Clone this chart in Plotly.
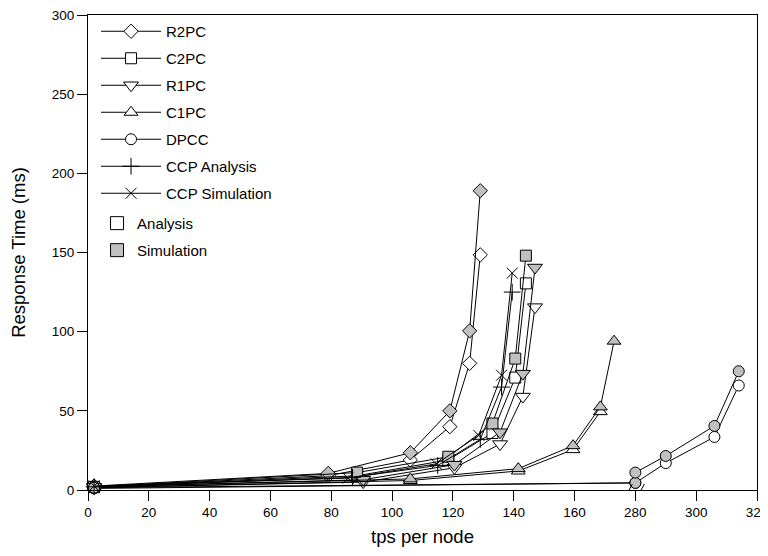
import plotly.graph_objects as go

# ---------------- data (tps per node, response time in ms) ----------------
r2pc_x = [2, 79, 106, 119, 125.5, 129]
r2pc_ana = [2, 9, 19, 40, 80, 148.5]
r2pc_sim = [2.5, 10.5, 23.5, 50, 100.5, 189]

c2pc_x = [2, 88.5, 118.5, 133, 140.5, 144]
c2pc_ana = [1.8, 9, 19, 36, 71, 130.5]
c2pc_sim = [2, 11, 21, 42, 83, 148]

r1pc_x = [2, 90.5, 120.5, 135.5, 143, 147]
r1pc_ana = [1.5, 5, 14, 29, 59, 115.5]
r1pc_sim = [2, 6.5, 16, 36.5, 73.5, 140.5]

c1pc_x_ana = [2, 106, 141.5, 159.5, 168.5]
c1pc_ana = [1.5, 6, 12, 25.5, 49.5]
c1pc_x_sim = [2, 106, 141.5, 159.5, 168.5, 173]
c1pc_sim = [2, 7, 13.5, 28, 52.5, 94]

dpcc_x_ana = [2, 280, 290, 306, 314]
dpcc_ana = [1, 4.5, 17, 33.5, 66]
dpcc_x_sim = [2, 280, 280, 290, 306, 314]
dpcc_sim = [1.5, 4.5, 11, 21.5, 40.5, 75]

ccp_x_ana = [2, 87, 115, 129, 136, 139.5]
ccp_ana = [2, 8, 15.5, 32, 65, 125]
ccp_x_sim = [2, 85.5, 114.5, 128.5, 136, 139.5]
ccp_sim = [2.5, 7.5, 16.5, 34.5, 72.5, 137]

tick_labels = [0, 20, 40, 60, 80, 100, 120, 140, 160, 280, 300, 320]
y_ticks = [0, 50, 100, 150, 200, 250, 300]

# axis break: 180..280 removed
BREAK_LO, BREAK_HI = 180, 280


def brk(v):
    return v if v <= BREAK_LO else v - (BREAK_HI - BREAK_LO)


def bx(xs):
    return [brk(v) for v in xs]


GREY = "#c0c0c0"
FONT = "Liberation Sans, Arial, sans-serif"

fig = go.Figure()


def add(name, xs, ys, symbol, fill, size, show, rank, legend="legend"):
    open_sym = symbol in ("cross-thin", "x-thin")
    fig.add_trace(go.Scatter(
        x=bx(xs), y=ys, mode="lines+markers", name=name,
        showlegend=show, legendgroup=name, legendrank=rank, legend=legend,
        line=dict(color="black", width=1),
        marker=dict(symbol=symbol, size=size,
                    color="black" if open_sym else fill,
                    line=dict(color="black", width=1)),
        cliponaxis=False,
    ))


add("R2PC", r2pc_x, r2pc_ana, "diamond", "white", 11, True, 1)
add("R2PC sim", r2pc_x, r2pc_sim, "diamond", GREY, 11, False, 100)
add("C2PC", c2pc_x, c2pc_ana, "square", "white", 11, True, 2)
add("C2PC sim", c2pc_x, c2pc_sim, "square", GREY, 11, False, 100)
add("R1PC", r1pc_x, r1pc_ana, "triangle-down", "white", 13, True, 3)
add("R1PC sim", r1pc_x, r1pc_sim, "triangle-down", GREY, 13, False, 100)
add("C1PC", c1pc_x_ana, c1pc_ana, "triangle-up", "white", 12, True, 4)
add("C1PC sim", c1pc_x_sim, c1pc_sim, "triangle-up", GREY, 12, False, 100)
add("DPCC", dpcc_x_ana, dpcc_ana, "circle", "white", 11, True, 5)
add("DPCC sim", dpcc_x_sim, dpcc_sim, "circle", GREY, 11, False, 100)
add("CCP Analysis", ccp_x_ana, ccp_ana, "cross-thin", "black", 12, True, 6)
add("CCP Simulation", ccp_x_sim, ccp_sim, "x-thin", "black", 11, True, 7)

# marker-only key for analysis / simulation
for nm, fill, rk in (("Analysis", "white", 1), ("Simulation", GREY, 2)):
    fig.add_trace(go.Scatter(
        x=[None], y=[None], mode="markers", name=nm, legend="legend2",
        legendgroup=nm, legendrank=rk,
        marker=dict(symbol="square", size=13, color=fill,
                    line=dict(color="black", width=1)),
    ))

# axis-break marks on the x axis
for dx in (-10, 2):
    fig.add_shape(type="line", xref="x", yref="y",
                  xsizemode="pixel", ysizemode="pixel",
                  xanchor=BREAK_LO, yanchor=0,
                  x0=dx, x1=dx + 7, y0=-7, y1=6,
                  line=dict(color="black", width=1))

fig.update_layout(
    width=768, height=556,
    margin=dict(l=80, r=19, t=7, b=74, autoexpand=False),
    paper_bgcolor="white", plot_bgcolor="white",
    font=dict(family=FONT, size=14, color="black"),
    legend=dict(x=0.012, y=1.0, xanchor="left", yanchor="top",
                itemwidth=60, tracegroupgap=4.5, bgcolor="rgba(0,0,0,0)",
                font=dict(size=15), itemclick=False),
    legend2=dict(x=0.0135, y=0.596, xanchor="left", yanchor="top",
                 itemwidth=30, tracegroupgap=4.5, bgcolor="rgba(0,0,0,0)",
                 font=dict(size=15)),
    xaxis=dict(range=[0, brk(320)], tickvals=bx(tick_labels),
               ticktext=[str(t) for t in tick_labels], automargin=False,
               ticklabeloverflow="allow",
               showgrid=False, zeroline=False, showline=True, mirror=True,
               linecolor="black", linewidth=1, ticks="outside", ticklen=10,
               tickcolor="black", tickfont=dict(size=13.5),
               title=dict(text="tps per node", font=dict(size=18.5), standoff=10)),
    yaxis=dict(range=[0, 300], tickvals=y_ticks, automargin=False,
               ticklabeloverflow="allow",
               showgrid=False, zeroline=False, showline=True, mirror=True,
               linecolor="black", linewidth=1, ticks="outside", ticklen=10,
               tickcolor="black", tickfont=dict(size=13.5),
               title=dict(text="Response Time (ms)", font=dict(size=18.5), standoff=22)),
)

fig.write_html("out.html")
